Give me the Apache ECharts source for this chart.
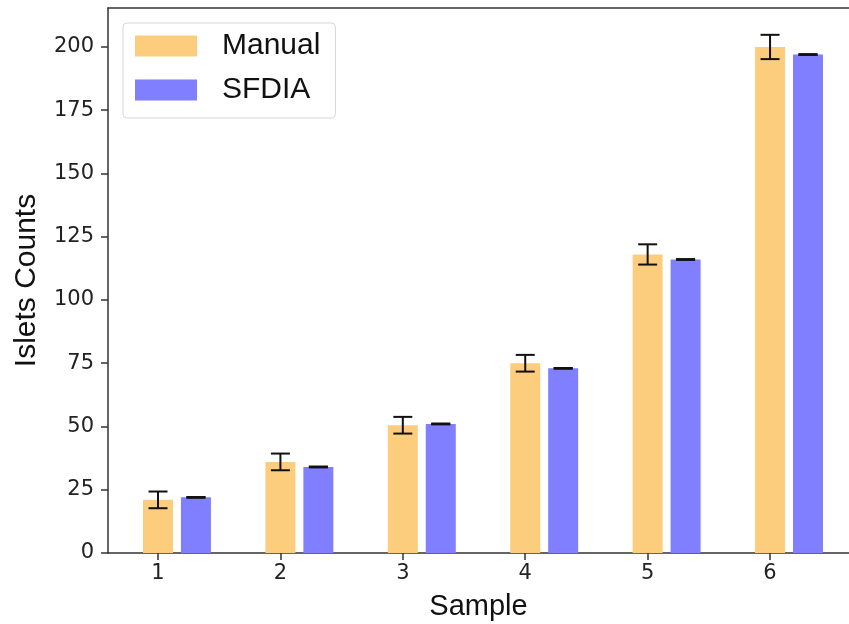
<!DOCTYPE html>
<html>
<head>
<meta charset="utf-8">
<script src="https://cdn.jsdelivr.net/npm/echarts@6/dist/echarts.min.js"></script>
<style>
  html, body { margin: 0; padding: 0; background: #fff; }
  #main { width: 849px; height: 624px; }
</style>
</head>
<body>
<div id="main"></div>
<script>
var samples = [1, 2, 3, 4, 5, 6];
var manualCounts = [21, 36, 50.5, 75, 118, 200];
var manualErr = [3.3, 3.3, 3.3, 3.3, 4, 4.8];
var sfdiaCounts = [22, 34, 51, 73, 116, 197];
var sfdiaErr = [0, 0, 0, 0, 0, 0];
var yTicks = [0, 25, 50, 75, 100, 125, 150, 175, 200];

var chartDom = document.getElementById('main');
var myChart = echarts.init(chartDom);

var BAR_W = 0.245;
var CAP = 9.5;

function barWithError(offset) {
  return function (params, api) {
    var x = api.value(0) + offset;
    var y = api.value(1);
    var e = api.value(2);
    var w = api.size([BAR_W, 0])[0];
    var top = api.coord([x, y]);
    var base = api.coord([x, 0]);
    var hi = api.coord([x, y + e]);
    var lo = api.coord([x, y - e]);
    var c = top[0];
    var lw = e > 0 ? 2 : 2.5;
    return {
      type: 'group',
      children: [
        {
          type: 'rect',
          shape: { x: c - w / 2, y: top[1], width: w, height: base[1] - top[1] },
          style: { fill: api.visual('color') }
        },
        {
          type: 'line',
          shape: { x1: c, y1: hi[1], x2: c, y2: lo[1] },
          style: { stroke: '#111', lineWidth: 2 }
        },
        {
          type: 'line',
          shape: { x1: c - CAP, y1: hi[1], x2: c + CAP, y2: hi[1] },
          style: { stroke: '#111', lineWidth: lw }
        },
        {
          type: 'line',
          shape: { x1: c - CAP, y1: lo[1], x2: c + CAP, y2: lo[1] },
          style: { stroke: '#111', lineWidth: lw }
        }
      ]
    };
  };
}

function rows(counts, errs) {
  return samples.map(function (s, i) {
    return [s, counts[i], errs[i]];
  });
}

var spine = { color: '#333', width: 1.5 };

var option = {
  animation: false,
  grid: {
    left: 108,
    right: 0,
    top: 8,
    bottom: 71,
    outerBoundsMode: 'none'
  },
  legend: {
    left: 123,
    top: 23,
    orient: 'vertical',
    icon: 'rect',
    itemWidth: 62,
    itemHeight: 21,
    itemGap: 14,
    padding: [8, 15, 13, 12],
    borderColor: '#d6d6d6',
    borderWidth: 1,
    borderRadius: 4,
    backgroundColor: 'rgba(255,255,255,0.8)',
    textStyle: {
      fontFamily: 'Liberation Sans',
      fontSize: 30,
      color: '#111',
      padding: [0, 0, 0, 20]
    },
    data: ['Manual', 'SFDIA']
  },
  xAxis: [
    {
      type: 'value',
      min: 0.5915,
      max: 6.645,
      name: 'Sample',
      nameLocation: 'middle',
      nameGap: 39,
      nameTextStyle: { fontFamily: 'Liberation Sans', fontSize: 29, color: '#111' },
      axisLine: { lineStyle: spine },
      axisTick: { customValues: samples, length: 7, lineStyle: spine },
      axisLabel: {
        customValues: samples,
        margin: 10,
        fontFamily: 'DejaVu Sans',
        fontSize: 21,
        color: '#222'
      },
      splitLine: { show: false }
    },
    {
      type: 'value',
      position: 'top',
      min: 0.5915,
      max: 6.645,
      axisLine: { show: true, onZero: false, lineStyle: spine },
      axisTick: { show: false },
      axisLabel: { show: false },
      splitLine: { show: false }
    }
  ],
  yAxis: {
    type: 'value',
    min: 0,
    max: 215.4,
    name: 'Islets Counts',
    nameLocation: 'middle',
    nameGap: 66,
    nameTextStyle: { fontFamily: 'Liberation Sans', fontSize: 30, color: '#111' },
    axisLine: { show: true, lineStyle: spine },
    axisTick: { show: true, customValues: yTicks, length: 7, lineStyle: spine },
    axisLabel: {
      customValues: yTicks,
      margin: 14,
      fontFamily: 'DejaVu Sans',
      fontSize: 21,
      color: '#222'
    },
    splitLine: { show: false }
  },
  series: [
    {
      name: 'Manual',
      type: 'custom',
      itemStyle: { color: '#FDCD7E' },
      renderItem: barWithError(0),
      encode: { x: 0, y: [1, 2] },
      data: rows(manualCounts, manualErr)
    },
    {
      name: 'SFDIA',
      type: 'custom',
      itemStyle: { color: '#7F7FFF' },
      renderItem: barWithError(0.31),
      encode: { x: 0, y: [1, 2] },
      data: rows(sfdiaCounts, sfdiaErr)
    }
  ]
};

option && myChart.setOption(option);
</script>
</body>
</html>
